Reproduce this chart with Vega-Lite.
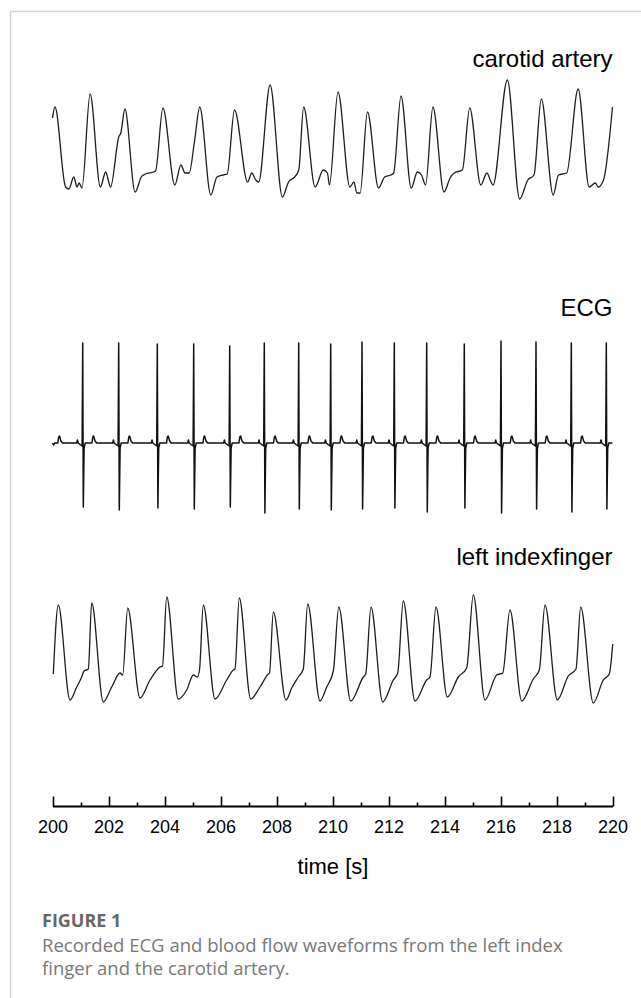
{
  "$schema": "https://vega.github.io/schema/vega-lite/v6.json",
  "width": 641,
  "height": 806,
  "autosize": {"type": "none"},
  "padding": {"left": 0, "top": 0, "right": 0, "bottom": 192},
  "background": "#ffffff",
  "config": {"view": {"stroke": null}},
  "title": {
    "text": "FIGURE 1",
    "subtitle": ["Recorded ECG and blood flow waveforms from the left index", "finger and the carotid artery."],
    "orient": "bottom",
    "anchor": "start",
    "frame": "group",
    "dx": 42,
    "offset": -88,
    "font": "Open Sans",
    "fontSize": 18,
    "fontWeight": "bold",
    "color": "#666666",
    "subtitleFont": "Open Sans",
    "subtitleFontSize": 18.5,
    "subtitleColor": "#787878",
    "subtitleLineHeight": 23,
    "subtitlePadding": 6
  },
  "datasets": {
    "carotid": [
      {"t":200.0,"v":0.82},{"t":200.088,"v":0.93},{"t":200.467,"v":0.13},{"t":200.584,"v":0.11},{"t":200.76,"v":0.23},{"t":200.877,"v":0.13},{"t":200.95,"v":0.17},{"t":201.052,"v":0.12},
      {"t":201.344,"v":1.06},{"t":201.709,"v":0.13},{"t":201.899,"v":0.28},{"t":202.075,"v":0.13},{"t":202.367,"v":0.63},{"t":202.44,"v":0.67},
      {"t":202.586,"v":0.91},{"t":202.951,"v":0.08},{"t":203.17,"v":0.23},{"t":203.316,"v":0.26},{"t":203.608,"v":0.28},{"t":203.682,"v":0.29},
      {"t":203.944,"v":0.92},{"t":204.368,"v":0.15},{"t":204.587,"v":0.35},{"t":204.733,"v":0.27},{"t":204.88,"v":0.27},{"t":205.069,"v":0.58},
      {"t":205.259,"v":0.93},{"t":205.654,"v":0.05},{"t":205.873,"v":0.23},{"t":206.092,"v":0.25},{"t":206.238,"v":0.26},
      {"t":206.501,"v":0.9},{"t":206.969,"v":0.18},{"t":207.115,"v":0.27},{"t":207.261,"v":0.2},{"t":207.363,"v":0.18},
      {"t":207.772,"v":1.15},{"t":208.21,"v":0.03},{"t":208.43,"v":0.18},{"t":208.649,"v":0.23},{"t":208.795,"v":0.3},
      {"t":208.97,"v":0.93},{"t":209.379,"v":0.13},{"t":209.671,"v":0.3},{"t":209.817,"v":0.27},{"t":209.891,"v":0.15},
      {"t":210.197,"v":1.08},{"t":210.621,"v":0.13},{"t":210.767,"v":0.18},{"t":210.869,"v":0.07},{"t":210.986,"v":0.07},
      {"t":211.249,"v":0.88},{"t":211.644,"v":0.12},{"t":211.863,"v":0.23},{"t":212.082,"v":0.25},{"t":212.184,"v":0.27},
      {"t":212.447,"v":1.04},{"t":212.812,"v":0.12},{"t":213.031,"v":0.28},{"t":213.178,"v":0.25},{"t":213.324,"v":0.15},
      {"t":213.587,"v":0.93},{"t":213.981,"v":0.08},{"t":214.2,"v":0.22},{"t":214.346,"v":0.27},{"t":214.638,"v":0.3},
      {"t":214.901,"v":0.92},{"t":215.296,"v":0.15},{"t":215.515,"v":0.27},{"t":215.661,"v":0.18},{"t":215.734,"v":0.15},
      {"t":216.245,"v":1.2},{"t":216.684,"v":0.01},{"t":216.976,"v":0.2},{"t":217.195,"v":0.25},
      {"t":217.458,"v":1.01},{"t":217.882,"v":0.05},{"t":218.072,"v":0.25},{"t":218.364,"v":0.27},
      {"t":218.773,"v":1.11},{"t":219.167,"v":0.13},{"t":219.386,"v":0.17},{"t":219.489,"v":0.13},{"t":219.679,"v":0.2},
      {"t":220.0,"v":0.93}
    ],
    "ecg": [
      {"t":200.0,"v":0},{"t":200.04,"v":-0.02},{"t":200.08,"v":0},{"t":200.19,"v":0},{"t":200.22,"v":0.06},{"t":200.25,"v":0.07},{"t":200.3,"v":0.02},{"t":200.36,"v":0},
      {"t":200.865,"v":0},{"t":200.89,"v":0.03},{"t":200.915,"v":0},{"t":201.058,"v":-0.03},{"t":201.079,"v":1.0},{"t":201.1,"v":-0.64},{"t":201.129,"v":-0.05},{"t":201.168,"v":0},{"t":201.409,"v":0},{"t":201.439,"v":0.06},{"t":201.469,"v":0.07},{"t":201.519,"v":0.02},{"t":201.579,"v":0},
      {"t":202.15,"v":0},{"t":202.175,"v":0.03},{"t":202.2,"v":0},{"t":202.343,"v":-0.03},{"t":202.364,"v":1.0},{"t":202.385,"v":-0.67},{"t":202.414,"v":-0.05},{"t":202.453,"v":0},{"t":202.694,"v":0},{"t":202.724,"v":0.06},{"t":202.754,"v":0.07},{"t":202.804,"v":0.02},{"t":202.864,"v":0},
      {"t":203.529,"v":0},{"t":203.554,"v":0.03},{"t":203.579,"v":0},{"t":203.722,"v":-0.03},{"t":203.743,"v":0.99},{"t":203.764,"v":-0.65},{"t":203.793,"v":-0.05},{"t":203.832,"v":0},{"t":204.073,"v":0},{"t":204.103,"v":0.06},{"t":204.133,"v":0.07},{"t":204.183,"v":0.02},{"t":204.243,"v":0},
      {"t":204.829,"v":0},{"t":204.854,"v":0.03},{"t":204.879,"v":0},{"t":205.022,"v":-0.03},{"t":205.043,"v":0.99},{"t":205.064,"v":-0.66},{"t":205.093,"v":-0.05},{"t":205.132,"v":0},{"t":205.373,"v":0},{"t":205.403,"v":0.06},{"t":205.433,"v":0.07},{"t":205.483,"v":0.02},{"t":205.543,"v":0},
      {"t":206.115,"v":0},{"t":206.14,"v":0.03},{"t":206.165,"v":0},{"t":206.308,"v":-0.03},{"t":206.329,"v":0.97},{"t":206.35,"v":-0.64},{"t":206.379,"v":-0.05},{"t":206.418,"v":0},{"t":206.659,"v":0},{"t":206.689,"v":0.06},{"t":206.719,"v":0.07},{"t":206.769,"v":0.02},{"t":206.829,"v":0},
      {"t":207.35,"v":0},{"t":207.375,"v":0.03},{"t":207.4,"v":0},{"t":207.543,"v":-0.03},{"t":207.564,"v":1.0},{"t":207.585,"v":-0.7},{"t":207.614,"v":-0.05},{"t":207.653,"v":0},{"t":207.894,"v":0},{"t":207.924,"v":0.06},{"t":207.954,"v":0.07},{"t":208.004,"v":0.02},{"t":208.064,"v":0},
      {"t":208.579,"v":0},{"t":208.604,"v":0.03},{"t":208.629,"v":0},{"t":208.772,"v":-0.03},{"t":208.793,"v":1.0},{"t":208.814,"v":-0.66},{"t":208.843,"v":-0.05},{"t":208.882,"v":0},{"t":209.123,"v":0},{"t":209.153,"v":0.06},{"t":209.183,"v":0.07},{"t":209.233,"v":0.02},{"t":209.293,"v":0},
      {"t":209.722,"v":0},{"t":209.747,"v":0.03},{"t":209.772,"v":0},{"t":209.915,"v":-0.03},{"t":209.936,"v":0.99},{"t":209.957,"v":-0.67},{"t":209.986,"v":-0.05},{"t":210.025,"v":0},{"t":210.266,"v":0},{"t":210.296,"v":0.06},{"t":210.326,"v":0.07},{"t":210.376,"v":0.02},{"t":210.436,"v":0},
      {"t":210.84,"v":0},{"t":210.865,"v":0.03},{"t":210.89,"v":0},{"t":211.033,"v":-0.03},{"t":211.054,"v":1.01},{"t":211.075,"v":-0.66},{"t":211.104,"v":-0.05},{"t":211.143,"v":0},{"t":211.384,"v":0},{"t":211.414,"v":0.06},{"t":211.444,"v":0.07},{"t":211.494,"v":0.02},{"t":211.554,"v":0},
      {"t":211.993,"v":0},{"t":212.018,"v":0.03},{"t":212.043,"v":0},{"t":212.186,"v":-0.03},{"t":212.207,"v":1.0},{"t":212.228,"v":-0.65},{"t":212.257,"v":-0.05},{"t":212.296,"v":0},{"t":212.537,"v":0},{"t":212.567,"v":0.06},{"t":212.597,"v":0.07},{"t":212.647,"v":0.02},{"t":212.707,"v":0},
      {"t":213.15,"v":0},{"t":213.175,"v":0.03},{"t":213.2,"v":0},{"t":213.343,"v":-0.03},{"t":213.364,"v":1.0},{"t":213.385,"v":-0.69},{"t":213.414,"v":-0.05},{"t":213.453,"v":0},{"t":213.694,"v":0},{"t":213.724,"v":0.06},{"t":213.754,"v":0.07},{"t":213.804,"v":0.02},{"t":213.864,"v":0},
      {"t":214.493,"v":0},{"t":214.518,"v":0.03},{"t":214.543,"v":0},{"t":214.686,"v":-0.03},{"t":214.707,"v":0.99},{"t":214.728,"v":-0.65},{"t":214.757,"v":-0.05},{"t":214.796,"v":0},{"t":215.037,"v":0},{"t":215.067,"v":0.06},{"t":215.097,"v":0.07},{"t":215.147,"v":0.02},{"t":215.207,"v":0},
      {"t":215.804,"v":0},{"t":215.829,"v":0.03},{"t":215.854,"v":0},{"t":215.997,"v":-0.03},{"t":216.018,"v":1.02},{"t":216.039,"v":-0.7},{"t":216.068,"v":-0.05},{"t":216.107,"v":0},{"t":216.348,"v":0},{"t":216.378,"v":0.06},{"t":216.408,"v":0.07},{"t":216.458,"v":0.02},{"t":216.518,"v":0},
      {"t":217.054,"v":0},{"t":217.079,"v":0.03},{"t":217.104,"v":0},{"t":217.247,"v":-0.03},{"t":217.268,"v":1.01},{"t":217.289,"v":-0.66},{"t":217.318,"v":-0.05},{"t":217.357,"v":0},{"t":217.598,"v":0},{"t":217.628,"v":0.06},{"t":217.658,"v":0.07},{"t":217.708,"v":0.02},{"t":217.768,"v":0},
      {"t":218.315,"v":0},{"t":218.34,"v":0.03},{"t":218.365,"v":0},{"t":218.508,"v":-0.03},{"t":218.529,"v":1.0},{"t":218.55,"v":-0.69},{"t":218.579,"v":-0.05},{"t":218.618,"v":0},{"t":218.859,"v":0},{"t":218.889,"v":0.06},{"t":218.919,"v":0.07},{"t":218.969,"v":0.02},{"t":219.029,"v":0},
      {"t":219.565,"v":0},{"t":219.59,"v":0.03},{"t":219.615,"v":0},{"t":219.758,"v":-0.03},{"t":219.779,"v":1.0},{"t":219.8,"v":-0.66},{"t":219.829,"v":-0.05},{"t":219.868,"v":0},{"t":220.0,"v":0}
    ],
    "finger": [
      {"t":200.029,"v":0.26},{"t":200.207,"v":0.95},{"t":200.625,"v":0.0},{"t":200.864,"v":0.13},{"t":201.043,"v":0.23},{"t":201.125,"v":0.29},{"t":201.279,"v":0.31},
      {"t":201.4,"v":0.97},{"t":201.814,"v":-0.02},{"t":202.114,"v":0.13},{"t":202.411,"v":0.27},{"t":202.507,"v":0.25},
      {"t":202.686,"v":0.92},{"t":203.125,"v":0.02},{"t":203.482,"v":0.2},{"t":203.839,"v":0.33},{"t":203.929,"v":0.34},
      {"t":204.079,"v":1.03},{"t":204.493,"v":0.01},{"t":204.793,"v":0.1},{"t":205.029,"v":0.25},{"t":205.171,"v":0.23},{"t":205.25,"v":0.3},
      {"t":205.386,"v":0.95},{"t":205.804,"v":0.01},{"t":206.221,"v":0.2},{"t":206.457,"v":0.3},{"t":206.518,"v":0.31},
      {"t":206.671,"v":1.02},{"t":207.079,"v":0.01},{"t":207.411,"v":0.13},{"t":207.707,"v":0.26},{"t":207.75,"v":0.27},
      {"t":207.886,"v":0.88},{"t":208.339,"v":0.0},{"t":208.543,"v":0.12},{"t":208.779,"v":0.23},{"t":208.957,"v":0.31},
      {"t":209.114,"v":0.96},{"t":209.554,"v":-0.01},{"t":209.793,"v":0.13},{"t":210.029,"v":0.29},
      {"t":210.225,"v":0.93},{"t":210.65,"v":-0.01},{"t":211.1,"v":0.23},{"t":211.186,"v":0.26},
      {"t":211.375,"v":0.93},{"t":211.793,"v":-0.02},{"t":212.171,"v":0.2},{"t":212.329,"v":0.27},
      {"t":212.529,"v":0.99},{"t":212.946,"v":-0.01},{"t":213.364,"v":0.2},{"t":213.482,"v":0.23},
      {"t":213.696,"v":0.93},{"t":214.1,"v":0.03},{"t":214.493,"v":0.23},{"t":214.793,"v":0.32},
      {"t":215.029,"v":1.05},{"t":215.446,"v":0.0},{"t":215.864,"v":0.25},{"t":216.079,"v":0.27},
      {"t":216.339,"v":0.9},{"t":216.757,"v":-0.01},{"t":217.171,"v":0.21},{"t":217.386,"v":0.3},
      {"t":217.589,"v":0.95},{"t":218.029,"v":0.0},{"t":218.421,"v":0.24},{"t":218.696,"v":0.31},
      {"t":218.864,"v":0.93},{"t":219.314,"v":-0.03},{"t":219.671,"v":0.2},{"t":219.886,"v":0.26},{"t":220.007,"v":0.56}
    ]
  },
  "encoding": {
    "x": {
      "field": "t",
      "type": "quantitative",
      "title": "time [s]",
      "scale": {"domain": [200, 220], "range": [52.5, 612.5], "nice": false, "zero": false},
      "axis": {
        "values": [200,201,202,203,204,205,206,207,208,209,210,211,212,213,214,215,216,217,218,219,220],
        "grid": false,
        "domain": true,
        "domainColor": "#000000",
        "domainWidth": 1.8,
        "tickColor": "#000000",
        "tickWidth": 1.6,
        "tickSize": {"condition": {"test": "datum.value % 2 !== 0", "value": -4}, "value": -10},
        "labelExpr": "datum.value % 2 === 0 ? datum.label : ''",
        "labelFont": "Liberation Sans",
        "labelFontSize": 18,
        "labelColor": "#000000",
        "labelPadding": 22,
        "labelFlush": false,
        "labelOverlap": false,
        "labelBound": false,
        "titleFont": "Liberation Sans",
        "titleFontSize": 22,
        "titleFontWeight": "normal",
        "titleColor": "#000000",
        "titlePadding": 14
      }
    }
  },
  "layer": [
    {
      "layer": [
        {
          "data": {"values": [{"t": 198.5, "t2": 222, "v": 1.885, "v2": -8.0}]},
          "mark": {"type": "rect", "fillOpacity": 0, "stroke": "#d2d2d2", "strokeWidth": 1.5},
          "encoding": {
            "x2": {"field": "t2"},
            "y": {"field": "v", "type": "quantitative", "axis": null, "scale": {"domain": [-6.06, 2.0], "nice": false, "zero": false}},
            "y2": {"field": "v2"}
          }
        },
        {
          "data": {"name": "carotid"},
          "mark": {"type": "line", "interpolate": "monotone", "color": "#1e1e1e", "strokeWidth": 1.3},
          "encoding": {
            "y": {"field": "v", "type": "quantitative", "axis": null, "scale": {"domain": [-6.06, 2.0], "nice": false, "zero": false}}
          }
        },
        {
          "data": {"values": [{"label": "carotid artery", "t": 220, "v": 1.33}]},
          "mark": {"type": "text", "align": "right", "baseline": "alphabetic", "font": "Liberation Sans", "fontSize": 24, "color": "#000000"},
          "encoding": {
            "y": {"field": "v", "type": "quantitative", "axis": null, "scale": {"domain": [-6.06, 2.0], "nice": false, "zero": false}},
            "text": {"field": "label"}
          }
        }
      ]
    },
    {
      "layer": [
        {
          "data": {"name": "ecg"},
          "mark": {"type": "line", "interpolate": "linear", "color": "#111111", "strokeWidth": 1.5, "strokeJoin": "round"},
          "encoding": {
            "y": {"field": "v", "type": "quantitative", "axis": null, "scale": {"domain": [-3.63, 4.43], "nice": false, "zero": false}}
          }
        },
        {
          "data": {"values": [{"label": "ECG", "t": 220, "v": 1.27}]},
          "mark": {"type": "text", "align": "right", "baseline": "alphabetic", "font": "Liberation Sans", "fontSize": 24, "color": "#000000"},
          "encoding": {
            "y": {"field": "v", "type": "quantitative", "axis": null, "scale": {"domain": [-3.63, 4.43], "nice": false, "zero": false}},
            "text": {"field": "label"}
          }
        }
      ]
    },
    {
      "layer": [
        {
          "data": {"name": "finger"},
          "mark": {"type": "line", "interpolate": "monotone", "color": "#1e1e1e", "strokeWidth": 1.3},
          "encoding": {
            "y": {"field": "v", "type": "quantitative", "axis": null, "scale": {"domain": [-1.06, 7.0], "nice": false, "zero": false}}
          }
        },
        {
          "data": {"values": [{"label": "left indexfinger", "t": 220, "v": 1.35}]},
          "mark": {"type": "text", "align": "right", "baseline": "alphabetic", "font": "Liberation Sans", "fontSize": 24, "color": "#000000"},
          "encoding": {
            "y": {"field": "v", "type": "quantitative", "axis": null, "scale": {"domain": [-1.06, 7.0], "nice": false, "zero": false}},
            "text": {"field": "label"}
          }
        }
      ]
    }
  ],
  "resolve": {"scale": {"y": "independent"}}
}
